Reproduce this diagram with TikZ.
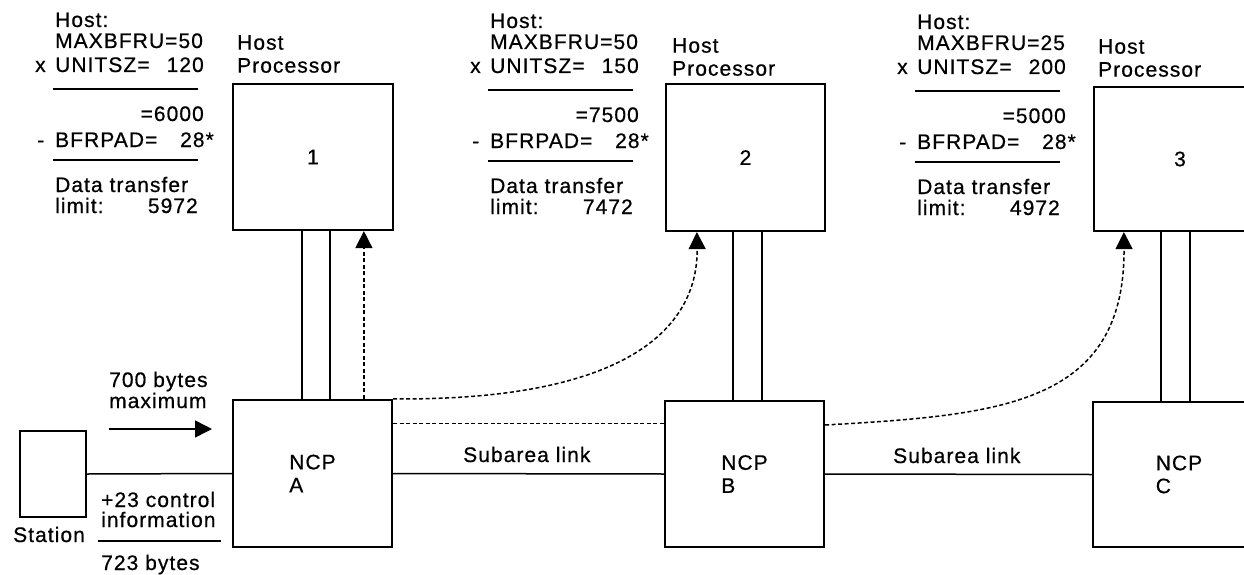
\documentclass[tikz,border=0pt]{standalone}
\usepackage{fontspec}
\setmainfont{Liberation Sans}[LetterSpace=5, FakeBold=0.6]
\usetikzlibrary{arrows.meta}
\tikzset{
  every picture/.style={x=1pt,y=-1pt},
  box/.style={draw, line width=2.2pt, inner sep=0pt, align=left,
              font=\fontsize{21}{23}\selectfont},
  txt/.style={inner sep=0pt, font=\fontsize{21}{23}\selectfont},
  link/.style={line width=1.5pt},
  dlink/.style={line width=1.5pt, dash pattern=on 4pt off 2.5pt},
  rulez/.style={line width=2.2pt},
  tip/.style={-{Triangle[length=17pt,width=17pt]}}
}
\newcommand\calcblock[7]{%
  \begin{scope}[shift={(#2,#3)}]
    \node[txt, anchor=base west] (#1host) at (55,27) {Host:};
    \node[txt, anchor=base west] (#1max) at (55,48) {MAXBFRU=#4};
    \node[txt, anchor=base west] (#1x) at (35,72) {x};
    \node[txt, anchor=base west] (#1unit) at (55,72) {UNITSZ=};
    \node[txt, anchor=base east] (#1unitv) at (204,72) {#5};
    \coordinate (#1ra) at (53,89); \coordinate (#1rb) at (198,89);
    \draw[rulez] (#1ra) -- (#1rb);
    \node[txt, anchor=base east] (#1prod) at (204,121) {=#6};
    \node[txt, anchor=base west] (#1minus) at (37,147) {-};
    \node[txt, anchor=base west] (#1pad) at (55,147) {BFRPAD=};
    \node[txt, anchor=base east] (#1padv) at (214,147) {28*};
    \coordinate (#1sa) at (53,160); \coordinate (#1sb) at (198,160);
    \draw[rulez] (#1sa) -- (#1sb);
    \node[txt, anchor=base west] (#1dt) at (55,192) {Data transfer};
    \node[txt, anchor=base west] (#1lim) at (55,213) {limit:};
    \node[txt, anchor=base east] (#1limv) at (198,213) {#7};
  \end{scope}}
\begin{document}
\begin{tikzpicture}
  \clip (0,0) rectangle (1244,575);
  \fill[white] (0,0) rectangle (1244,575);

  % calculation blocks
  \calcblock{c1}{0}{0}{50}{120}{6000}{5972}
  \calcblock{c2}{435}{1}{50}{150}{7500}{7472}
  \calcblock{c3}{862}{2}{25}{200}{5000}{4972}

  % host processors
  \node[box, minimum width=160pt, minimum height=146pt] (h1) at (313,157) {1};
  \node[box, minimum width=159pt, minimum height=147pt] (h2) at (745.5,157.5) {2};
  \node[box, minimum width=172pt, minimum height=144pt] (h3) at (1180,159) {3};
  \node[txt, anchor=north west, align=left] (hl1) at (237,35) {Host\\Processor};
  \node[txt, anchor=north west, align=left] (hl2) at (672,38) {Host\\Processor};
  \node[txt, anchor=north west, align=left] (hl3) at (1098,39) {Host\\Processor};

  % NCPs and station
  \node[box, minimum width=159pt, minimum height=147pt] (na) at (312.5,473.5) {NCP\\A};
  \node[box, minimum width=159pt, minimum height=146pt] (nb) at (744.5,474) {NCP\\B};
  \node[box, minimum width=172pt, minimum height=145pt] (nc) at (1179,474.5) {NCP\\C};
  \node[box, minimum width=66pt, minimum height=86pt] (st) at (53,474) {};
  \node[txt, anchor=base west] (stl) at (13,542) {Station};

  % links
  \draw[link] (st.east) -- (na.west);
  \draw[link] (na.east) -- (nb.west);
  \draw[link] (nb.east) -- (nc.west);
  \node[txt, anchor=base west] (sl1) at (463,462) {Subarea link};
  \node[txt, anchor=base west] (sl2) at (893,463) {Subarea link};

  % host channel lines
  \draw[link] ([xshift=70pt]h1.south west) -- ([xshift=70pt]h1.south west |- na.north);
  \draw[link] ([xshift=98pt]h1.south west) -- ([xshift=98pt]h1.south west |- na.north);
  \draw[link] ([xshift=68pt]h2.south west) -- ([xshift=68pt]h2.south west |- nb.north);
  \draw[link] ([xshift=97pt]h2.south west) -- ([xshift=97pt]h2.south west |- nb.north);
  \draw[link] ([xshift=68pt]h3.south west) -- ([xshift=68pt]h3.south west |- nc.north);
  \draw[link] ([xshift=97pt]h3.south west) -- ([xshift=97pt]h3.south west |- nc.north);

  % data paths (dashed)
  \draw[dlink, tip] ([xshift=132pt]na.north west) -- ([xshift=132pt]na.north west |- h1.south);
  \draw[dlink, tip] (na.north east) .. controls (640,401) and (698,320) .. ([xshift=32pt]h2.south west);
  \draw[dlink] ([yshift=50pt]na.east) -- ([yshift=50pt]na.east -| nb.west);
  \draw[dlink, tip] ([yshift=49pt]nb.east) .. controls (1000,415) and (1125,405) .. ([xshift=31pt]h3.south west);

  % station annotation
  \node[txt, anchor=base west] (b700) at (109,387) {700 bytes};
  \node[txt, anchor=base west] (bmax) at (109,408) {maximum};
  \coordinate (a0) at (109,429); \coordinate (a1) at (212,429);
  \draw[link, tip] (a0) -- (a1);
  \node[txt, anchor=base west] (b23) at (101,507) {+23 control};
  \node[txt, anchor=base west] (binf) at (101,527) {information};
  \coordinate (u0) at (98,541); \coordinate (u1) at (221,541);
  \draw[rulez] (u0) -- (u1);
  \node[txt, anchor=base west] (b723) at (101,570) {723 bytes};
\end{tikzpicture}
\end{document}
